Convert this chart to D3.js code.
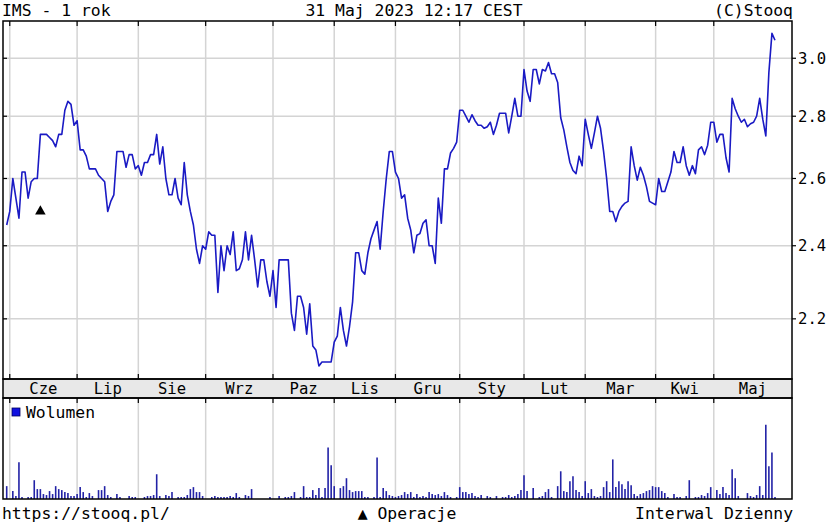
<!DOCTYPE html>
<html>
<head>
<meta charset="utf-8">
<script src="https://cdn.jsdelivr.net/npm/d3@7/dist/d3.min.js"></script>
<style>
body { margin: 0; background: #fff; }
text { font-family: "DejaVu Sans Mono", monospace; font-size: 16.4px; fill: #000; }
</style>
</head>
<body>
<svg id="chart" width="829" height="526"></svg>
<script>
// daily closes, 31 May 2022 .. 31 May 2023
var closes = [
  2.46, 2.50, 2.60, 2.54, 2.48, 2.62, 2.62, 2.54, 2.59, 2.60,
  2.60, 2.74, 2.74, 2.74, 2.73, 2.72, 2.70, 2.74, 2.74, 2.82,
  2.85, 2.84, 2.77, 2.785, 2.69, 2.69, 2.67, 2.63, 2.63, 2.63,
  2.61, 2.60, 2.59, 2.50, 2.53, 2.55, 2.685, 2.685, 2.685, 2.635,
  2.675, 2.675, 2.63, 2.64, 2.61, 2.65, 2.65, 2.675, 2.675, 2.74,
  2.645, 2.70, 2.60, 2.55, 2.55, 2.60, 2.54, 2.52, 2.65, 2.55,
  2.50, 2.46, 2.39, 2.35, 2.40, 2.39, 2.44, 2.43, 2.43, 2.27,
  2.40, 2.33, 2.40, 2.375, 2.44, 2.33, 2.335, 2.36, 2.44, 2.36,
  2.43, 2.36, 2.285, 2.36, 2.36, 2.30, 2.26, 2.33, 2.23, 2.36,
  2.36, 2.36, 2.36, 2.215, 2.17, 2.26, 2.26, 2.23, 2.16, 2.24,
  2.13, 2.12, 2.08, 2.09, 2.09, 2.09, 2.09, 2.14, 2.155, 2.23,
  2.17, 2.13, 2.18, 2.245, 2.38, 2.38, 2.33, 2.32, 2.38, 2.42,
  2.445, 2.47, 2.39, 2.50, 2.60, 2.685, 2.685, 2.62, 2.60, 2.54,
  2.55, 2.48, 2.445, 2.38, 2.43, 2.435, 2.465, 2.475, 2.40, 2.40,
  2.35, 2.54, 2.465, 2.63, 2.63, 2.68, 2.695, 2.715, 2.82, 2.82,
  2.80, 2.78, 2.805, 2.785, 2.77, 2.77, 2.76, 2.765, 2.78, 2.74,
  2.77, 2.81, 2.81, 2.81, 2.745, 2.80, 2.86, 2.80, 2.80, 2.96,
  2.885, 2.85, 2.96, 2.96, 2.91, 2.96, 2.955, 2.985, 2.945, 2.945,
  2.915, 2.795, 2.755, 2.70, 2.65, 2.625, 2.615, 2.67, 2.64, 2.79,
  2.74, 2.695, 2.745, 2.80, 2.76, 2.685, 2.60, 2.50, 2.50, 2.47,
  2.50, 2.515, 2.525, 2.53, 2.70, 2.64, 2.595, 2.635, 2.61, 2.575,
  2.53, 2.525, 2.52, 2.60, 2.56, 2.56, 2.59, 2.62, 2.685, 2.65,
  2.65, 2.70, 2.64, 2.61, 2.64, 2.615, 2.69, 2.70, 2.675, 2.705,
  2.78, 2.78, 2.715, 2.74, 2.74, 2.665, 2.62, 2.86, 2.825, 2.80,
  2.78, 2.79, 2.765, 2.775, 2.78, 2.80, 2.86, 2.79, 2.735, 2.95,
  3.09, 3.065
];

// daily volume (thousands of shares)
var volumes = [
  13,
  0, 8, 3, 37, 2, 0, 2, 2, 19, 10, 10, 5, 4, 8, 5, 13, 10, 9, 7, 6, 3,
  3, 5, 12, 7, 2, 6, 3, 0, 9, 9, 13, 4, 2, 0, 5, 2, 0, 0, 3, 2, 2,
  0, 0, 2, 3, 3, 4, 25, 3, 0, 4, 3, 7, 0, 2, 2, 2, 4, 10, 12, 7, 7, 3,
  0, 0, 2, 3, 2, 2, 2, 2, 3, 2, 6, 2, 0, 4, 3, 10, 0, 0, 0, 0, 0, 2,
  0, 0, 3, 0, 2, 2, 3, 7, 0, 2, 13, 2, 2, 9, 4, 11, 2, 11, 52, 34, 13,
  0, 11, 13, 21, 9, 7, 8, 8, 8, 2, 2, 0, 2, 42, 2, 11, 8, 4, 3, 2,
  3, 4, 7, 5, 7, 2, 5, 2, 3, 2, 7, 5, 4, 5, 3, 7, 4, 2, 0, 2,
  12, 7, 7, 5, 6, 3, 2, 4, 0, 3, 2, 0, 3, 0, 2, 2, 4, 2, 3, 5, 9,
  24, 8, 0, 11, 0, 2, 3, 7, 10, 2, 0, 13, 28, 8, 7, 18, 23, 9, 7, 3,
  18, 6, 10, 3, 2, 3, 12, 18, 7, 40, 12, 18, 15, 10, 18, 14, 5, 3, 5, 6, 8, 9, 13,
  12, 12, 8, 6, 2, 0, 5, 2, 2, 0, 3, 19, 0, 2, 2, 4, 3, 6, 12,
  0, 9, 5, 12, 6, 4, 30, 21, 3, 0, 0, 6, 3, 2, 4, 13, 4, 75, 33, 47, 2
];

var monthLabels = ["Cze", "Lip", "Sie", "Wrz", "Paz", "Lis", "Gru", "Sty", "Lut", "Mar", "Kwi", "Maj"];
var monthStarts = [1, 23, 43, 65, 87, 107, 127, 148, 169, 189, 212, 231];
var priceTicks = [2.2, 2.4, 2.6, 2.8, 3.0];
var operations = [{ i: 11, v: 2.50 }];

function drawChart(){

var svg = d3.select("#chart");

var left = 3, right = 792, plotTop = 21, priceBottom = 379, bandBottom = 398, volBottom = 499;

var x = d3.scaleLinear()
          .domain([0, closes.length - 1])
          .range([6.7, 775]);

var y = d3.scaleLog()
          .domain([2.048, 3.136])
          .range([priceBottom, plotTop]);

var yVol = d3.scaleLinear()
          .domain([0, 100])
          .range([volBottom, bandBottom + 2]);

svg.append("rect").attr("width", 829).attr("height", 526).attr("fill", "#fff");

// month band
svg.append("rect")
   .attr("x", left).attr("y", priceBottom)
   .attr("width", right - left).attr("height", bandBottom - priceBottom)
   .attr("fill", "#e8e8e8");

// grid
var grid = svg.append("g").attr("stroke", "#d4d4d4").attr("stroke-width", 1.5);
grid.selectAll(".vp")
    .data(monthStarts)
    .enter()
    .append("line")
    .attr("x1", function(d){ return x(d); })
    .attr("x2", function(d){ return x(d); })
    .attr("y1", plotTop).attr("y2", priceBottom);
grid.selectAll(".vv")
    .data(monthStarts)
    .enter()
    .append("line")
    .attr("x1", function(d){ return x(d); })
    .attr("x2", function(d){ return x(d); })
    .attr("y1", bandBottom).attr("y2", volBottom);
grid.selectAll(".h")
    .data(priceTicks)
    .enter()
    .append("line")
    .attr("x1", left).attr("x2", right)
    .attr("y1", function(d){ return y(d); })
    .attr("y2", function(d){ return y(d); });

// volume bars
svg.append("g").selectAll("line")
   .data(volumes.map(function(v, i){ return { i: i, v: v }; }).filter(function(d){ return d.v > 0; }))
   .enter()
   .append("line")
   .attr("x1", function(d){ return x(d.i); })
   .attr("x2", function(d){ return x(d.i); })
   .attr("y1", yVol(0))
   .attr("y2", function(d){ return yVol(d.v); })
   .attr("stroke", "#2222a6")
   .attr("stroke-width", 1.6);

// price line
var line = d3.line()
    .x(function(d, i){ return x(i); })
    .y(function(d){ return y(d); });

svg.append("path")
   .datum(closes)
   .attr("d", line)
   .attr("fill", "none")
   .attr("stroke", "#1a1ac4")
   .attr("stroke-width", 1.6)
   .attr("stroke-linejoin", "round");

// operation markers
svg.selectAll(".op")
   .data(operations)
   .enter()
   .append("path")
   .attr("d", d3.symbol().type(d3.symbolTriangle).size(48))
   .attr("transform", function(d){ return "translate(" + x(d.i) + "," + y(d.v) + ")"; })
   .attr("fill", "#000");

// frames
var frame = svg.append("g").attr("fill", "none").attr("stroke", "#000").attr("stroke-width", 1.5);
frame.append("rect").attr("x", left).attr("y", plotTop).attr("width", right - left).attr("height", priceBottom - plotTop);
frame.append("rect").attr("x", left).attr("y", priceBottom).attr("width", right - left).attr("height", bandBottom - priceBottom);
frame.append("rect").attr("x", left).attr("y", bandBottom).attr("width", right - left).attr("height", volBottom - bandBottom);

// ticks
var ticks = svg.append("g").attr("stroke", "#000").attr("stroke-width", 1.2);
[[plotTop, plotTop + 5], [priceBottom, priceBottom - 5], [bandBottom, bandBottom + 5]].forEach(function(p){
  ticks.selectAll(null)
       .data(monthStarts)
       .enter()
       .append("line")
       .attr("x1", function(d){ return x(d); })
       .attr("x2", function(d){ return x(d); })
       .attr("y1", p[0]).attr("y2", p[1]);
});
ticks.selectAll(null)
     .data(priceTicks)
     .enter()
     .append("line")
     .attr("x1", left).attr("x2", left + 4)
     .attr("y1", function(d){ return y(d); })
     .attr("y2", function(d){ return y(d); });
ticks.selectAll(null)
     .data(priceTicks)
     .enter()
     .append("line")
     .attr("x1", right).attr("x2", right + 4)
     .attr("y1", function(d){ return y(d); })
     .attr("y2", function(d){ return y(d); });

// price labels
svg.selectAll(".pl")
   .data(priceTicks)
   .enter()
   .append("text")
   .attr("x", 798)
   .attr("y", function(d){ return y(d) + 5.5; })
   .style("font-size", "15.6px")
   .text(function(d){ return d3.format(".1f")(d); });

// month labels
var bounds = monthStarts.map(function(d){ return x(d); }).concat([right]);
svg.selectAll(".ml")
   .data(monthLabels)
   .enter()
   .append("text")
   .attr("x", function(d, i){ return (bounds[i] + bounds[i + 1]) / 2; })
   .attr("y", 394)
   .attr("text-anchor", "middle")
   .style("font-size", "15.6px")
   .text(function(d){ return d; });

// header and footer
svg.append("text").attr("x", 2).attr("y", 16).text("IMS - 1 rok");
svg.append("text").attr("x", 414).attr("y", 16).attr("text-anchor", "middle").text("31 Maj 2023 12:17 CEST");
svg.append("text").attr("x", 793).attr("y", 16).attr("text-anchor", "end").text("(C)Stooq");
svg.append("text").attr("x", 2).attr("y", 519).text("https://stooq.pl/");
svg.append("text").attr("x", 407).attr("y", 519).attr("text-anchor", "middle").text("\u25B2 Operacje");
svg.append("text").attr("x", 793).attr("y", 519).attr("text-anchor", "end").text("Interwal Dzienny");

// legend
svg.append("rect").attr("x", 12).attr("y", 408).attr("width", 8).attr("height", 8)
   .attr("fill", "#1010e0").attr("stroke", "#000060").attr("stroke-width", 0.8);
svg.append("text").attr("x", 26).attr("y", 418).text("Wolumen");

}

window.onload = drawChart;
</script>
</body>
</html>
